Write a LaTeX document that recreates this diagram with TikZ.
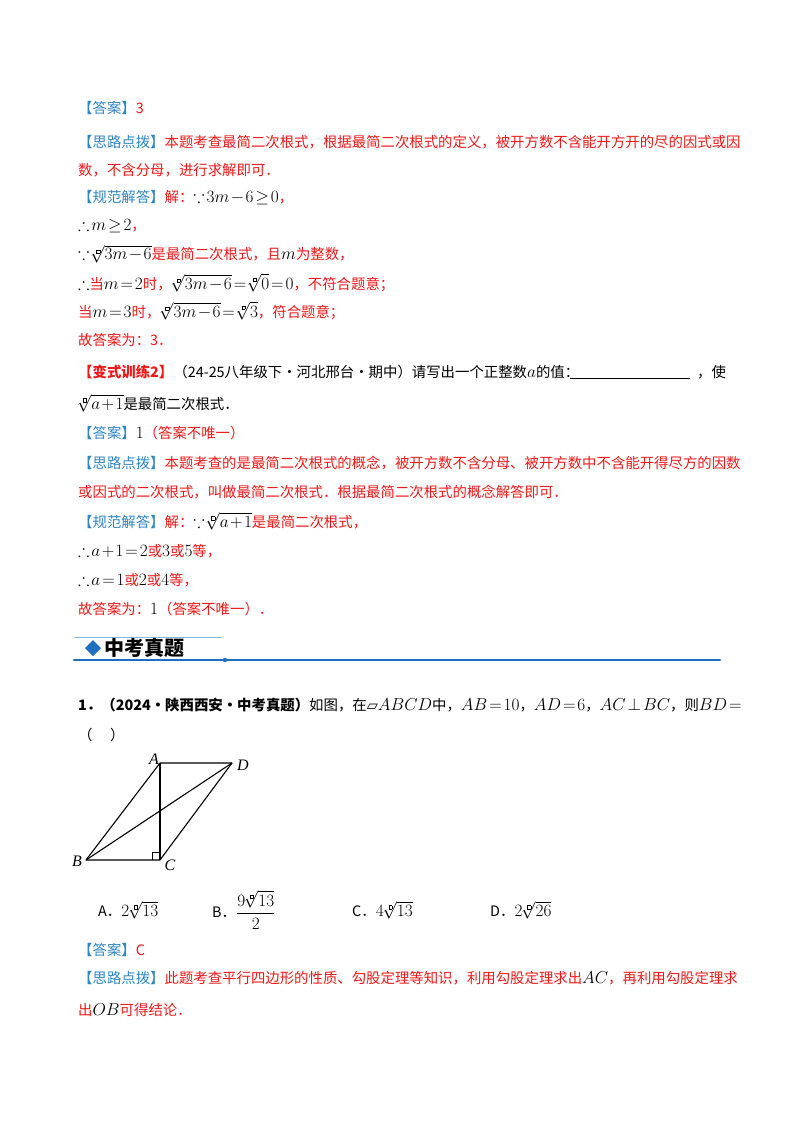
\documentclass[tikz,border=0pt]{standalone}
\usepackage{amsmath,amssymb}
\usepackage{fontspec}
\setmainfont{Liberation Serif}
\newfontfamily\cjk{Noto Sans CJK SC}
\newfontfamily\djv{DejaVu Sans}
\DeclareMathSizes{14.4}{17}{12}{9}
\XeTeXlinebreaklocale "zh"
\definecolor{lblue}{HTML}{2E86C1}
\definecolor{rd}{HTML}{F01818}
\definecolor{hb}{HTML}{1F6FC0}
\newcommand\lb[1]{{\color{lblue}【#1】}}
\newcommand\bx{\mbox{\fboxsep=0pt\fboxrule=0.3pt\fbox{\rule{0pt}{3pt}\hspace{3pt}}}}
\newcommand\rt[1]{\sqrt[\bx]{#1}}
\newcommand\R[1]{{\color{rd}#1}}
\thickmuskip=2mu plus 1mu
\medmuskip=1.5mu
\begin{document}
\begin{tikzpicture}[x=1pt,y=-1pt,
  ln/.style={anchor=west,inner sep=0pt,font=\fontsize{14.4}{16}\selectfont\cjk},
  seg/.style={line width=1.1pt}]
\useasboundingbox (0,0) rectangle (800,1132);
\node[ln] (l1) at (78,108) {\lb{答案}\R{3}};
\node[ln] (l2) at (78,142) {\lb{思路点拨}\R{本题考查最简二次根式，根据最简二次根式的定义，被开方数不含能开方开的尽的因式或因}};
\node[ln] (l3) at (78,170) {\R{数，不含分母，进行求解即可．}};
\node[ln] (l4) at (78,198) {\lb{规范解答}\R{解：}$\because 3m-6\geq0$\R{，}};
\node[ln] (l5) at (78,226) {$\therefore m\geq2$\R{，}};
\node[ln] (l6) at (78,254) {$\because\rt{3m-6}$\R{是最简二次根式，且}$m$\R{为整数，}};
\node[ln] (l7) at (78,283) {$\therefore$\R{当}$m=2$\R{时，}$\rt{3m-6}=\rt{0}=0$\R{，不符合题意；}};
\node[ln] (l8) at (78,311) {\R{当}$m=3$\R{时，}$\rt{3m-6}=\rt{3}$\R{，符合题意；}};
\node[ln] (l9) at (78,340) {\R{故答案为：3．}};
\node[ln] (l10) at (78,372) {{\color{rd}\bfseries【变式训练2】}（24-25八年级下•河北邢台•期中）请写出一个正整数$a$的值：};
\draw[line width=0.6pt] (570,378) -- (690,378);
\node[ln] (l10b) at (697,372) {，使};
\node[ln] (l11) at (78,403) {$\rt{a+1}$是最简二次根式．};
\node[ln] (l12) at (78,433) {\lb{答案}$1$\R{（答案不唯一）}};
\node[ln] (l13) at (78,463) {\lb{思路点拨}\R{本题考查的是最简二次根式的概念，被开方数不含分母、被开方数中不含能开得尽方的因数}};
\node[ln] (l14) at (78,492) {\R{或因式的二次根式，叫做最简二次根式．根据最简二次根式的概念解答即可．}};
\node[ln] (l15) at (78,521) {\lb{规范解答}\R{解：}$\because\rt{a+1}$\R{是最简二次根式，}};
\node[ln] (l16) at (78,551) {$\therefore a+1=2$\R{或}$3$\R{或}$5$\R{等，}};
\node[ln] (l17) at (78,580) {$\therefore a=1$\R{或}$2$\R{或}$4$\R{等，}};
\node[ln] (l18) at (78,609) {\R{故答案为：}$1$\R{（答案不唯一）．}};
% section header
\draw[lblue!60,line width=0.6pt] (74,637) -- (222,637);
\fill[hb] (93,640) -- (101,648) -- (93,656) -- (85,648) -- cycle;
\node[anchor=west,inner sep=0pt,font=\fontsize{20}{22}\selectfont\cjk\bfseries] (sec) at (104,648) {中考真题};
\draw[hb,line width=2.6pt,line cap=round] (74,660) -- (720,660);
\fill[hb] (225,660) circle (2.2pt);
\node[ln] (p1) at (78,705) {\textbf{1．（2024•陕西西安•中考真题）}如图，在{\djv ▱}$ABCD$中，$AB=10$，$AD=6$，$AC\perp BC$，则$BD=$};
\node[ln] (p1b) at (78,735) {（\quad\ ）};
% figure
\coordinate (A) at (160,763);
\coordinate (D) at (232,763);
\coordinate (B) at (86,860);
\coordinate (C) at (160,860);
\draw[seg,line join=round] (A) -- (D) -- (C) -- (B) -- cycle;
\draw[seg] (A) -- (C);
\draw[seg] (B) -- (D);
\draw[line width=0.8pt] (152,860) -- (152,852) -- (160,852);
\node[font=\fontsize{16}{16}\selectfont\itshape] (la) at (154,759) {A};
\node[font=\fontsize{16}{16}\selectfont\itshape] (ld) at (243,765) {D};
\node[font=\fontsize{16}{16}\selectfont\itshape] (lb) at (77,861) {B};
\node[font=\fontsize{16}{16}\selectfont\itshape] (lc) at (170,865) {C};
% options
\node[ln] (oa) at (98,910) {A．$2\rt{13}$};
\node[ln] (ob) at (212,910) {B．$\dfrac{9\rt{13}}{2}$};
\node[ln] (oc) at (352,910) {C．$4\rt{13}$};
\node[ln] (od) at (490,910) {D．$2\rt{26}$};
\node[ln] (a1) at (78,950) {\lb{答案}\R{C}};
\node[ln] (a2) at (78,978) {\lb{思路点拨}\R{此题考查平行四边形的性质、勾股定理等知识，利用勾股定理求出}$AC$\R{，再利用勾股定理求}};
\node[ln] (a3) at (78,1010) {\R{出}$OB$\R{可得结论．}};
\end{tikzpicture}
\end{document}
